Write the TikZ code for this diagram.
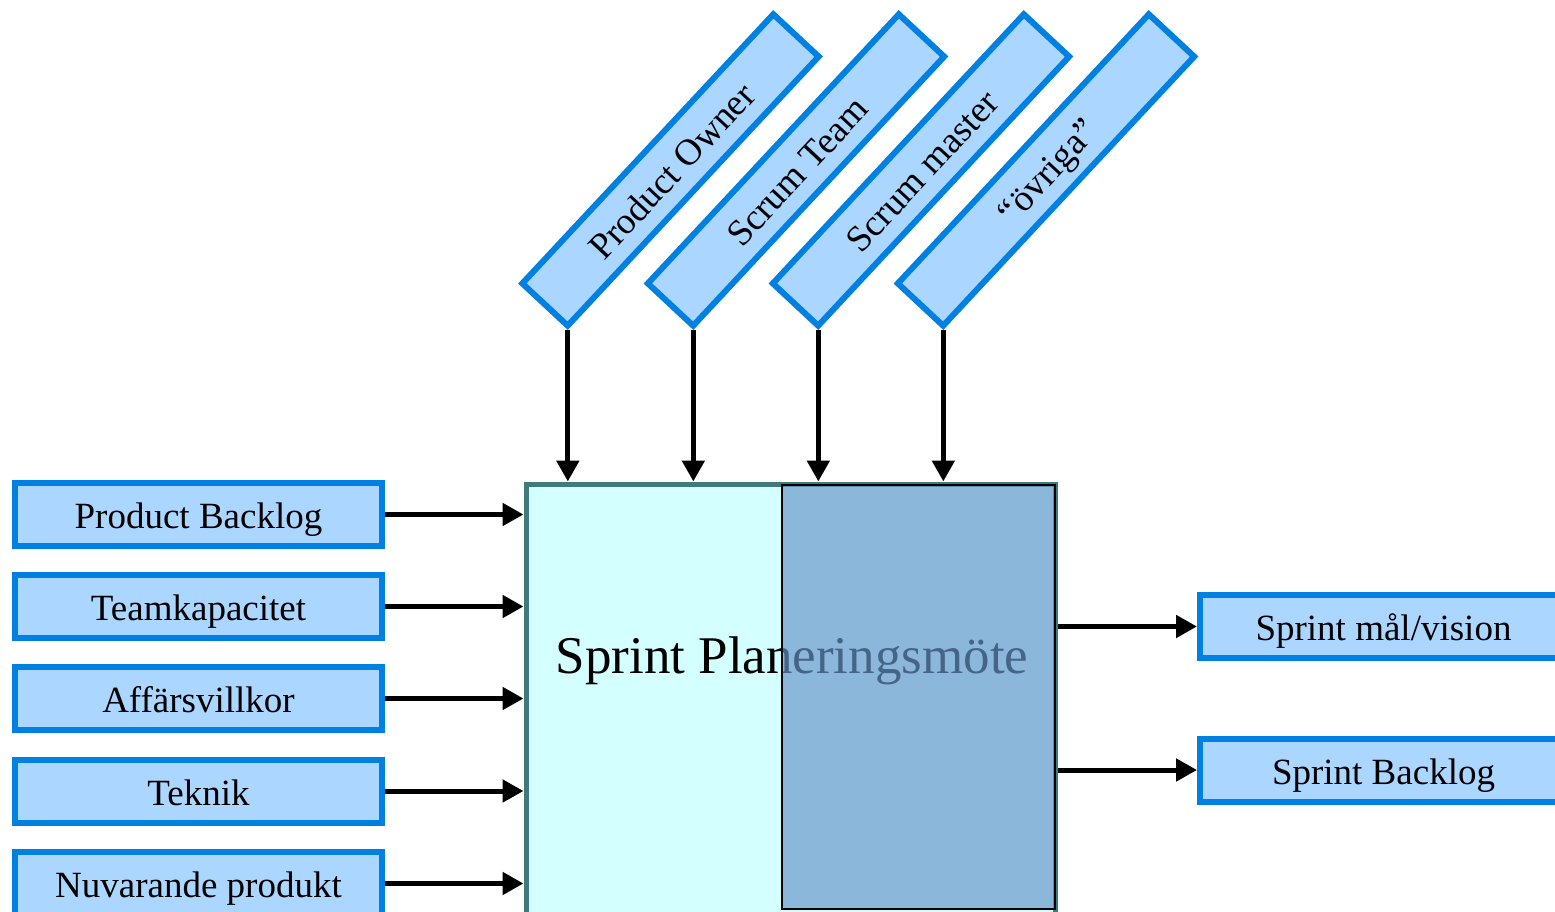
\documentclass[tikz,border=0pt]{standalone}
\usepackage{fontspec}
\setmainfont{Liberation Serif}
\usetikzlibrary{arrows.meta}
\definecolor{boxblue}{RGB}{0,128,224}
\definecolor{boxfill}{RGB}{170,214,255}
\definecolor{meetline}{RGB}{64,122,122}
\definecolor{meetfill}{RGB}{212,255,255}
\definecolor{shadefill}{RGB}{104,150,201}

\tikzset{
  inbox/.style={draw=boxblue,line width=6pt,fill=boxfill,minimum width=367pt,
    minimum height=63pt,inner sep=0pt,text height=33pt,text depth=5pt,
    font=\fontsize{37}{44}\selectfont},
  rolebox/.style={draw=boxblue,line width=6pt,fill=boxfill,minimum width=368pt,
    minimum height=62pt,inner sep=0pt,rotate=47,text height=33pt,text depth=5pt,
    font=\fontsize{37}{44}\selectfont},
  flow/.style={line width=5pt,-{Triangle[length=21pt,width=22pt]}}
}

\begin{document}
\begin{tikzpicture}[line join=miter,x=1pt,y=-1pt]
	\useasboundingbox (0,0) rectangle (1555,912);
	\clip (0,0) rectangle (1555,912);
	% meeting
	\node[draw=meetline,line width=5pt,fill=meetfill,minimum width=529pt,minimum height=466pt] (meet) at (790.5,717) {};
	\node[font=\fontsize{53}{60}\selectfont] (title) at (792,661) {Sprint Planeringsmöte};
	\draw[black,line width=2pt,fill=shadefill,fill opacity=0.67] (782,485) rectangle (1055,909);
	% roles
	\node[rolebox] (po) at (670.5,170) {Product Owner};
	\node[rolebox] (st) at (796,170) {Scrum Team};
	\node[rolebox] (sm) at (921,170) {Scrum master};
	\node[rolebox] (ov) at (1046,170) {“övriga”};
	% inputs
	\node[inbox] (pb) at (198.5,514.5) {Product Backlog};
	\node[inbox] (tk) at (198.5,606.5) {Teamkapacitet};
	\node[inbox] (av) at (198.5,698.5) {Affärsvillkor};
	\node[inbox] (te) at (198.5,791) {Teknik};
	\node[inbox] (np) at (198.5,883.5) {Nuvarande produkt};
	% outputs
	\node[inbox] (sg) at (1383.5,626.5) {Sprint mål/vision};
	\node[inbox] (sb) at (1383.5,770) {Sprint Backlog};
	% arrows
	\draw[flow] (po.south west) -- (po.south west |- meet.north);
	\draw[flow] (st.south west) -- (st.south west |- meet.north);
	\draw[flow] (sm.south west) -- (sm.south west |- meet.north);
	\draw[flow] (ov.south west) -- (ov.south west |- meet.north);
	\draw[flow] (pb.east) -- (pb.east -| meet.west);
	\draw[flow] (tk.east) -- (tk.east -| meet.west);
	\draw[flow] (av.east) -- (av.east -| meet.west);
	\draw[flow] (te.east) -- (te.east -| meet.west);
	\draw[flow] (np.east) -- (np.east -| meet.west);
	\draw[flow] (meet.east |- sg.west) -- (sg.west);
	\draw[flow] (meet.east |- sb.west) -- (sb.west);
\end{tikzpicture}
\end{document}
